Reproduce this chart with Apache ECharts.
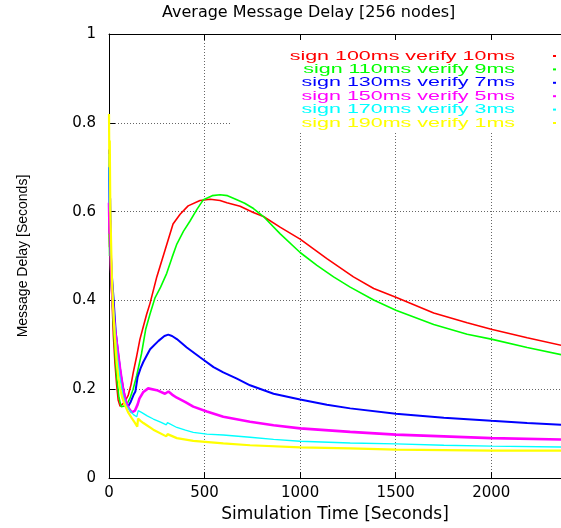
<!DOCTYPE html>
<html>
<head>
<meta charset="utf-8">
<title>Average Message Delay</title>
<script src="https://cdn.jsdelivr.net/npm/echarts@6/dist/echarts.min.js"></script>
<style>
  html, body { margin: 0; padding: 0; background: #fff; }
  #chart { width: 561px; height: 528px; }
</style>
</head>
<body>
<div id="chart"></div>
<script>
// Series labels and colours, in plotting order
const seriesNames = [
  'sign 100ms verify 10ms',
  'sign 110ms verify 9ms',
  'sign 130ms verify 7ms',
  'sign 150ms verify 5ms',
  'sign 170ms verify 3ms',
  'sign 190ms verify 1ms'
];
const seriesColors = ['#ff0000', '#00ff00', '#0000ff', '#ff00ff', '#00ffff', '#ffff00'];
const seriesWidths = [1.6, 1.6, 2, 2.6, 1.3, 2.2];

// [simulation time (s), average message delay (s)]
const delay100 = [
  [0,0.58],[3,0.52],[6,0.55],[9,0.47],[12,0.44],[16,0.40],[23,0.32],[31,0.26],[40,0.21],[48,0.176],
  [58,0.162],[68,0.163],[80,0.17],[101,0.187],[115,0.21],[127,0.238],[145,0.275],[162,0.313],[180,0.342],
  [197,0.369],[215,0.394],[250,0.453],[293,0.513],[335,0.572],[372,0.594],[414,0.613],[476,0.625],
  [529,0.628],[581,0.625],[617,0.62],[686,0.612],[755,0.598],[808,0.589],[895,0.565],[1000,0.538],
  [1140,0.494],[1279,0.453],[1385,0.427],[1501,0.407],[1699,0.372],[1874,0.35],[2000,0.335],
  [2188,0.316],[2366,0.299]
];
const delay110 = [
  [0,0.6],[3,0.5],[6,0.54],[10,0.45],[16,0.41],[25,0.33],[33,0.27],[41,0.224],[52,0.182],[63,0.161],
  [73,0.157],[90,0.163],[110,0.18],[126,0.2],[145,0.231],[170,0.28],[192,0.335],[215,0.37],[240,0.405],
  [270,0.43],[302,0.461],[330,0.497],[355,0.527],[390,0.556],[424,0.579],[460,0.605],[494,0.627],
  [540,0.636],[581,0.638],[620,0.636],[669,0.627],[710,0.619],[756,0.607],[808,0.589],[896,0.55],
  [1000,0.508],[1088,0.479],[1175,0.453],[1262,0.43],[1385,0.401],[1501,0.378],[1699,0.346],
  [1874,0.324],[2000,0.313],[2188,0.294],[2366,0.278]
];
const delay130 = [
  [0,0.74],[3,0.6],[6,0.63],[10,0.5],[16,0.45],[23,0.409],[35,0.33],[49,0.276],[62,0.232],[75,0.2],
  [88,0.172],[100,0.161],[114,0.172],[128,0.187],[138,0.195],[150,0.228],[165,0.247],[180,0.262],
  [215,0.29],[259,0.309],[290,0.32],[310,0.323],[330,0.32],[355,0.313],[407,0.294],[476,0.272],
  [547,0.25],[598,0.238],[669,0.224],[738,0.209],[861,0.19],[1000,0.177],[1140,0.165],[1262,0.157],
  [1501,0.145],[1752,0.136],[2000,0.129],[2188,0.124],[2366,0.12]
];
const delay150 = [
  [0,0.62],[3,0.55],[6,0.58],[10,0.48],[16,0.42],[24,0.37],[31,0.335],[45,0.29],[58,0.246],[72,0.205],
  [84,0.179],[97,0.162],[110,0.153],[119,0.148],[136,0.152],[146,0.156],[150,0.166],[159,0.179],
  [180,0.194],[205,0.202],[250,0.198],[293,0.19],[303,0.193],[311,0.195],[330,0.188],[355,0.181],
  [400,0.171],[441,0.161],[512,0.15],[598,0.138],[738,0.127],[861,0.119],[1000,0.112],[1262,0.104],
  [1501,0.098],[1752,0.094],[2000,0.09],[2366,0.087]
];
const delay170 = [
  [0,0.73],[3,0.6],[6,0.64],[10,0.52],[16,0.45],[24,0.38],[35,0.31],[46,0.265],[58,0.224],[72,0.188],
  [90,0.163],[110,0.152],[128,0.143],[145,0.138],[150,0.138],[153,0.152],[170,0.148],[200,0.14],
  [232,0.133],[270,0.126],[300,0.12],[306,0.125],[315,0.121],[355,0.114],[400,0.108],[441,0.103],
  [512,0.099],[598,0.097],[738,0.092],[861,0.087],[1000,0.083],[1262,0.079],[1501,0.077],[1752,0.074],
  [2000,0.072],[2366,0.07]
];
const delay190 = [
  [0,0.82],[2,0.7],[4,0.76],[7,0.6],[10,0.55],[15,0.45],[22,0.38],[30,0.32],[40,0.261],[49,0.225],
  [58,0.202],[70,0.18],[84,0.164],[100,0.148],[119,0.135],[135,0.125],[148,0.116],[152,0.134],
  [165,0.129],[180,0.124],[232,0.109],[300,0.094],[306,0.099],[315,0.095],[355,0.09],[441,0.084],
  [598,0.078],[738,0.074],[1000,0.069],[1262,0.067],[1501,0.064],[2000,0.062],[2366,0.062]
];
const seriesData = [delay100, delay110, delay130, delay150, delay170, delay190];

// Axis ranges
const timeMax = 2365;
const timeStep = 500;
const delayMax = 1;
const delayStep = 0.2;

const labelFont = 'DejaVu Sans';
const gridLine = { show: true, lineStyle: { color: '#666', type: [1, 2], width: 1 } };

// Key block in the upper right: white panel, right-aligned widened labels, small colour marks
const keyRight = 515;
const keyTop = 56;
const keyRowStep = 13.4;
const keyElements = [
  { type: 'rect', x: 230, y: 40, z: 1, shape: { width: 331, height: 91 }, style: { fill: '#fff' }, silent: true }
];
seriesNames.forEach((name, i) => {
  const rowY = keyTop + i * keyRowStep;
  keyElements.push({
    type: 'text', x: keyRight, y: rowY, z: 5, scaleX: 1.65, silent: true,
    style: { text: name, fill: seriesColors[i], font: '13px "Liberation Sans"', align: 'right', verticalAlign: 'middle' }
  });
  keyElements.push({
    type: 'rect', x: 553, y: rowY - 1, z: 5, silent: true,
    shape: { width: 3, height: 2 }, style: { fill: seriesColors[i] }
  });
});

const chart = echarts.init(document.getElementById('chart'), null, { renderer: 'canvas' });

chart.setOption({
  animation: false,
  backgroundColor: '#fff',
  title: {
    text: 'Average Message Delay [256 nodes]',
    left: 162,
    top: 5,
    padding: 0,
    textStyle: { fontFamily: labelFont, fontSize: 16, fontWeight: 'normal', color: '#000' }
  },
  grid: { left: 109, right: 0, top: 34, bottom: 44 },
  graphic: keyElements,
  xAxis: [
    {
      type: 'value',
      min: 0,
      max: timeMax,
      interval: timeStep,
      name: 'Simulation Time [Seconds]',
      nameLocation: 'middle',
      nameGap: 26,
      nameTextStyle: { fontFamily: labelFont, fontSize: 17, color: '#000' },
      axisLine: { show: true, lineStyle: { color: '#000', width: 1 } },
      axisTick: { show: true, inside: true, length: 6, lineStyle: { color: '#000' } },
      axisLabel: {
        margin: 8, fontFamily: labelFont, fontSize: 15, color: '#000', showMaxLabel: false,
        formatter: value => String(value)
      },
      splitLine: gridLine
    },
    {
      type: 'value',
      position: 'top',
      min: 0,
      max: timeMax,
      interval: timeStep,
      axisLine: { show: true, onZero: false, lineStyle: { color: '#000', width: 1 } },
      axisTick: { show: true, inside: true, length: 6, lineStyle: { color: '#000' } },
      axisLabel: { show: false },
      splitLine: { show: false }
    }
  ],
  yAxis: {
    type: 'value',
    min: 0,
    max: delayMax,
    interval: delayStep,
    name: 'Message Delay [Seconds]',
    nameLocation: 'middle',
    nameGap: 79,
    nameTextStyle: { fontFamily: "'Liberation Sans', sans-serif", fontSize: 14, color: '#000' },
    axisLine: { show: true, lineStyle: { color: '#000', width: 1 } },
    axisTick: { show: true, inside: true, length: 6, lineStyle: { color: '#000' } },
    axisLabel: { margin: 13, fontFamily: labelFont, fontSize: 15, color: '#000' },
    splitLine: gridLine
  },
  series: seriesData.map((data, i) => ({
    name: seriesNames[i],
    type: 'line',
    xAxisIndex: 0,
    data: data,
    showSymbol: false,
    smooth: false,
    color: seriesColors[i],
    lineStyle: { color: seriesColors[i], width: seriesWidths[i] },
    emphasis: { disabled: true }
  }))
});
</script>
</body>
</html>
